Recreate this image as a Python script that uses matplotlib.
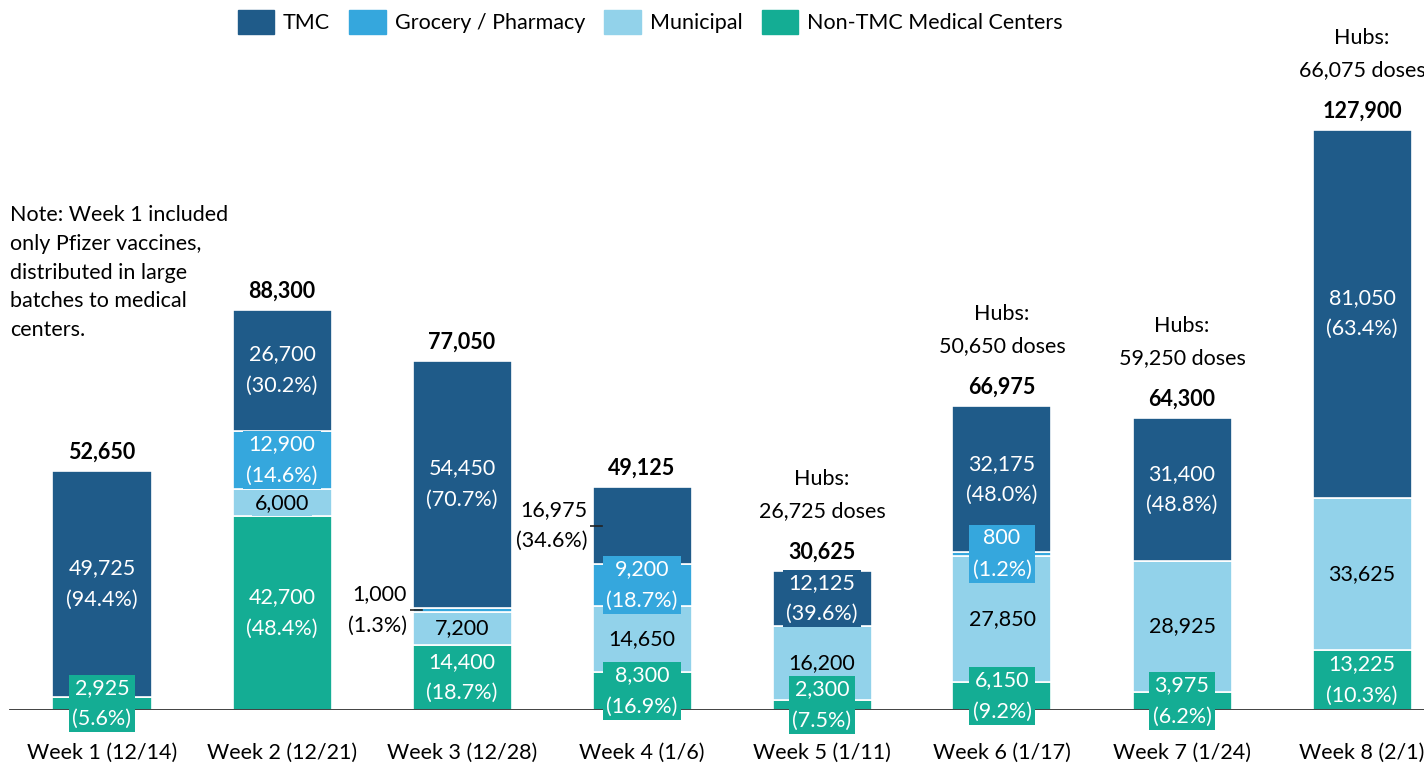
import matplotlib
matplotlib.use('Agg')
import matplotlib.pyplot as plt
from matplotlib.patches import Patch
import numpy as np

plt.rcParams['font.family'] = ['Lato', 'DejaVu Sans']

weeks = ['Week 1 (12/14)', 'Week 2 (12/21)', 'Week 3 (12/28)', 'Week 4 (1/6)',
         'Week 5 (1/11)', 'Week 6 (1/17)', 'Week 7 (1/24)', 'Week 8 (2/1)']
non_tmc = [2925, 42700, 14400, 8300, 2300, 6150, 3975, 13225]
municipal = [0, 6000, 7200, 14650, 16200, 27850, 28925, 33625]
grocery = [0, 12900, 1000, 9200, 0, 800, 0, 0]
tmc = [49725, 26700, 54450, 16975, 12125, 32175, 31400, 81050]
hubs = [None, None, None, None, 26725, 50650, 59250, 66075]

note = 'Note: Week 1 included\nonly Pfizer vaccines,\ndistributed in large\nbatches to medical\ncenters.'

c_tmc = '#1f5b89'
c_groc = '#35a7dd'
c_mun = '#92d2ea'
c_non = '#14ad94'

fs = 15.5
W = 0.55

fig = plt.figure(figsize=(14.24, 7.68), dpi=100)
ax = fig.add_axes([0, 58/768, 1, 710/768])

x = np.arange(len(weeks))
series = [(non_tmc, c_non, 'white', True),
          (municipal, c_mun, 'black', False),
          (grocery, c_groc, 'white', True),
          (tmc, c_tmc, 'white', True)]

totals = np.array(non_tmc) + np.array(municipal) + np.array(grocery) + np.array(tmc)
bottom = np.zeros(len(weeks))
for vals, col, tcol, show_pct in series:
    vals = np.array(vals)
    ax.bar(x, vals, W, bottom=bottom, color=col, edgecolor='white', linewidth=1.2, zorder=2)
    for i in range(len(weeks)):
        v = vals[i]
        if v == 0:
            continue
        yc = bottom[i] + v / 2
        txt = f'{v:,}'
        if show_pct:
            txt += f'\n({100 * v / totals[i]:.1f}%)'
        # small segments placed outside to the left
        if (i == 2 and col == c_groc) or (i == 3 and col == c_tmc):
            ax.text(i - 0.305, yc, txt, ha='right', va='center', fontsize=fs,
                    color='black', linespacing=1.7, zorder=5,
                    bbox=dict(boxstyle='square,pad=0.15', fc='white', ec='none'))
            ax.plot([i - 0.3, i - 0.22], [yc, yc], color='#222222', lw=1.2, zorder=4)
        else:
            ax.text(i, yc, txt, ha='center', va='center', fontsize=fs, color=tcol,
                    linespacing=1.7, zorder=5,
                    bbox=dict(boxstyle='square,pad=0.15', fc=col, ec='none'))
    bottom = bottom + vals

for i, t in enumerate(totals):
    ax.annotate(f'{t:,}', (i, t), xytext=(0, 6), textcoords='offset points',
                ha='center', va='bottom', fontsize=fs, fontweight='bold')
    if hubs[i] is not None:
        ax.annotate(f'Hubs:\n{hubs[i]:,} doses', (i, t), xytext=(0, 36),
                    textcoords='offset points', ha='center', va='bottom',
                    fontsize=fs, linespacing=1.75)

ax.axhline(0, xmin=10/1424, xmax=1, color='#333333', lw=1.3, zorder=3)

ax.set_xlim(-102/180, (1424 - 102)/180)
ax.set_ylim(0, 156560)
ax.set_xticks(x)
ax.set_xticklabels(weeks, fontsize=fs)
ax.tick_params(axis='x', length=0, pad=24)
ax.set_yticks([])
for s in ax.spines.values():
    s.set_visible(False)

fig.text(10/1424, 1 - 205/768, note, ha='left', va='top', fontsize=fs, linespacing=1.55)

handles = [Patch(color=c_tmc, label='TMC'), Patch(color=c_groc, label='Grocery / Pharmacy'),
           Patch(color=c_mun, label='Municipal'), Patch(color=c_non, label='Non-TMC Medical Centers')]
fig.legend(handles=handles, loc='center', bbox_to_anchor=(650/1424, 1 - 22/768), ncol=4,
           frameon=False, fontsize=fs, handlelength=1.7, handleheight=1.4,
           handletextpad=0.4, columnspacing=0.9)

fig.savefig('out.png', dpi=100)
